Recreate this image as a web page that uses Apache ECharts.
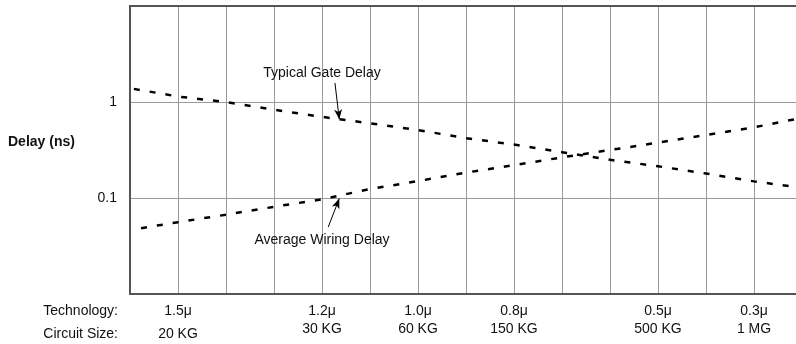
<!DOCTYPE html>
<html>
<head>
<meta charset="utf-8">
<script src="https://cdn.jsdelivr.net/npm/echarts@6/dist/echarts.min.js"></script>
<style>
  html, body { margin: 0; padding: 0; background: #fff; }
  #main { width: 796px; height: 344px; }
</style>
</head>
<body>
<div id="main"></div>
<script>
// 数据 ---------------------------------
var gateX = [0.08, 1, 2, 3, 4, 5, 6, 7, 8, 9, 10, 11, 12, 13, 13.875];
var gateDelay = [1.37, 1.14, 1.0, 0.83, 0.70, 0.60, 0.51, 0.42, 0.36, 0.30, 0.25, 0.214, 0.18, 0.149, 0.13];
var wireX = [0.23, 1, 2, 3, 4, 5, 6, 7, 8, 9, 10, 11, 12, 13, 13.875];
var wireDelay = [0.0485, 0.056, 0.067, 0.081, 0.097, 0.124, 0.15, 0.184, 0.22, 0.265, 0.316, 0.377, 0.453, 0.545, 0.665];

// x 轴刻度标签
var techTicks = {1: '1.5μ', 4: '1.2μ', 6: '1.0μ', 8: '0.8μ', 11: '0.5μ', 13: '0.3μ'};
var sizeTicks = {1: '20 KG', 4: '30 KG', 6: '60 KG', 8: '150 KG', 11: '500 KG', 13: '1 MG'};
var yTicks = [1, 0.1];

var font = 'Liberation Sans, Arial, sans-serif';

function pairs(xs, ys) {
    return xs.map(function (x, i) { return [x, ys[i]]; });
}

var myChart = echarts.init(document.getElementById('main'));

var noteLabel = {show: true, position: 'inside', color: '#111', fontSize: 14, fontFamily: font, formatter: '{b}'};

var option = {
    animation: false,
    textStyle: {fontFamily: font},
    grid: {left: 130, right: 0, top: 6, bottom: 50, containLabel: false},
    xAxis: [{
        type: 'value',
        min: 0,
        max: 13.875,
        interval: 1,
        axisLine: {show: true, onZero: false, lineStyle: {color: '#555', width: 2}},
        axisTick: {show: false},
        splitLine: {show: true, lineStyle: {color: '#9a9a9a', width: 1}},
        axisLabel: {
            margin: 8,
            showMaxLabel: false,
            formatter: function (v) {
                if (!techTicks[v]) return '';
                var style = v === 1 ? 'c' : 'b';
                return '{a|' + techTicks[v] + '}\n{' + style + '|' + sizeTicks[v] + '}';
            },
            rich: {
                a: {fontSize: 14, lineHeight: 18, color: '#111', fontFamily: font},
                b: {fontSize: 14, lineHeight: 18, color: '#111', fontFamily: font},
                c: {fontSize: 14, lineHeight: 28, color: '#111', fontFamily: font}
            }
        }
    }, {
        type: 'value',
        position: 'top',
        min: 0,
        max: 13.875,
        axisLine: {show: true, lineStyle: {color: '#555', width: 2}},
        axisTick: {show: false},
        axisLabel: {show: false},
        splitLine: {show: false}
    }],
    yAxis: {
        type: 'log',
        logBase: 10,
        min: 0.01,
        max: 10,
        axisLine: {show: true, lineStyle: {color: '#555', width: 2}},
        axisTick: {show: false},
        minorTick: {show: false},
        splitLine: {show: true, lineStyle: {color: '#9a9a9a', width: 1}},
        axisLabel: {
            margin: 13,
            fontSize: 14,
            color: '#111',
            formatter: function (v) {
                for (var i = 0; i < yTicks.length; i++) {
                    if (Math.abs(v - yTicks[i]) < 1e-9) return String(yTicks[i]);
                }
                return '';
            }
        }
    },
    graphic: [
        {type: 'text', left: 8, top: 135, style: {text: 'Delay (ns)', font: 'bold 14px ' + font, fill: '#111'}},
        {type: 'text', right: 678, top: 304, style: {text: 'Technology:', font: '14px ' + font, fill: '#111'}},
        {type: 'text', right: 678, top: 327, style: {text: 'Circuit Size:', font: '14px ' + font, fill: '#111'}}
    ],
    series: [
        {
            name: 'Typical Gate Delay',
            type: 'line',
            data: pairs(gateX, gateDelay),
            symbol: 'none',
            lineStyle: {color: '#000', width: 2.5, type: [6, 10]},
            markPoint: {
                symbol: 'circle',
                symbolSize: 1,
                itemStyle: {color: 'rgba(0,0,0,0)'},
                label: noteLabel,
                data: [{name: 'Typical Gate Delay', coord: [4.0, 2.0]}]
            },
            markLine: {
                silent: true,
                symbol: ['none', 'arrow'],
                symbolSize: [6, 10],
                label: {show: false},
                lineStyle: {color: '#000', width: 1, type: 'solid'},
                data: [[{coord: [4.27, 1.577]}, {coord: [4.36, 0.66]}]]
            }
        },
        {
            name: 'Average Wiring Delay',
            type: 'line',
            data: pairs(wireX, wireDelay),
            symbol: 'none',
            lineStyle: {color: '#000', width: 2.5, type: [6, 10]},
            markPoint: {
                symbol: 'circle',
                symbolSize: 1,
                itemStyle: {color: 'rgba(0,0,0,0)'},
                label: noteLabel,
                data: [{name: 'Average Wiring Delay', coord: [4.0, 0.0365]}]
            },
            markLine: {
                silent: true,
                symbol: ['none', 'arrow'],
                symbolSize: [6, 10],
                label: {show: false},
                lineStyle: {color: '#000', width: 1, type: 'solid'},
                data: [[{coord: [4.13, 0.0499]}, {coord: [4.36, 0.0986]}]]
            }
        }
    ]
};

myChart.setOption(option);

window.onresize = function () {
    myChart.resize();
};
</script>
</body>
</html>
